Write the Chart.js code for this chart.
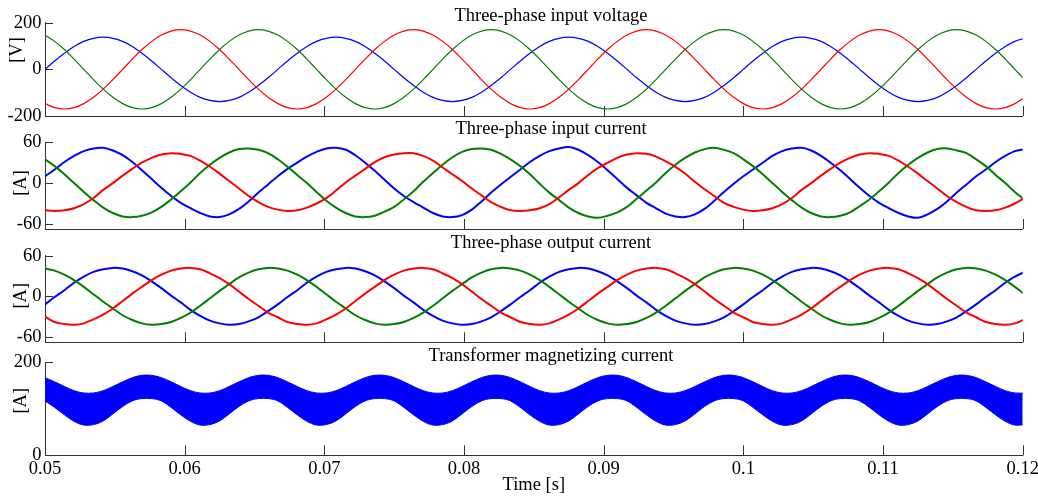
<!DOCTYPE html>
<html>
<head>
<meta charset="utf-8">
<script src="https://cdn.jsdelivr.net/npm/chart.js@4.4.0/dist/chart.umd.min.js"></script>
<style>
  body { margin: 0; background: #fff; }
  #wrap { position: relative; width: 1038px; height: 501px; }
  canvas { position: absolute; left: 0; top: 0; }
</style>
</head>
<body>
<div id="wrap">
  <canvas id="p1" width="1038" height="501"></canvas>
  <canvas id="p2" width="1038" height="501"></canvas>
  <canvas id="p3" width="1038" height="501"></canvas>
  <canvas id="p4" width="1038" height="501"></canvas>
</div>
<script>
// sample times [s]
const time = [
  0.05, 0.05069, 0.05139, 0.05208, 0.05278, 0.05347, 0.05417, 0.05486, 0.05556, 0.05625, 0.05694, 0.05764, 0.05833, 0.05903, 0.05972, 0.06042, 0.06111, 0.06181, 0.0625, 0.06319, 0.06389, 0.06458, 0.06528, 0.06597,
  0.06667, 0.06736, 0.06806, 0.06875, 0.06944, 0.07014, 0.07083, 0.07153, 0.07222, 0.07292, 0.07361, 0.07431, 0.075, 0.07569, 0.07639, 0.07708, 0.07778, 0.07847, 0.07917, 0.07986, 0.08056, 0.08125, 0.08194, 0.08264,
  0.08333, 0.08403, 0.08472, 0.08542, 0.08611, 0.08681, 0.0875, 0.08819, 0.08889, 0.08958, 0.09028, 0.09097, 0.09167, 0.09236, 0.09306, 0.09375, 0.09444, 0.09514, 0.09583, 0.09653, 0.09722, 0.09792, 0.09861, 0.09931,
  0.1, 0.10069, 0.10139, 0.10208, 0.10278, 0.10347, 0.10417, 0.10486, 0.10556, 0.10625, 0.10694, 0.10764, 0.10833, 0.10903, 0.10972, 0.11042, 0.11111, 0.11181, 0.1125, 0.11319, 0.11389, 0.11458, 0.11528, 0.11597,
  0.11667, 0.11736, 0.11806, 0.11875, 0.11944, 0.12014
];

// input voltage [V]
const voltRed = [
  -147, -164, -170, -164, -147, -120, -85, -44, 0, 44, 85, 120, 147, 164, 170, 164, 147, 120, 85, 44, 0, -44, -85, -120,
  -147, -164, -170, -164, -147, -120, -85, -44, 0, 44, 85, 120, 147, 164, 170, 164, 147, 120, 85, 44, 0, -44, -85, -120,
  -147, -164, -170, -164, -147, -120, -85, -44, 0, 44, 85, 120, 147, 164, 170, 164, 147, 120, 85, 44, 0, -44, -85, -120,
  -147, -164, -170, -164, -147, -120, -85, -44, 0, 44, 85, 120, 147, 164, 170, 164, 147, 120, 85, 44, 0, -44, -85, -120,
  -147, -164, -170, -164, -147, -120
];
const voltGreen = [
  147, 120, 85, 44, 0, -44, -85, -120, -147, -164, -170, -164, -147, -120, -85, -44, 0, 44, 85, 120, 147, 164, 170, 164,
  147, 120, 85, 44, 0, -44, -85, -120, -147, -164, -170, -164, -147, -120, -85, -44, 0, 44, 85, 120, 147, 164, 170, 164,
  147, 120, 85, 44, 0, -44, -85, -120, -147, -164, -170, -164, -147, -120, -85, -44, 0, 44, 85, 120, 147, 164, 170, 164,
  147, 120, 85, 44, 0, -44, -85, -120, -147, -164, -170, -164, -147, -120, -85, -44, 0, 44, 85, 120, 147, 164, 170, 164,
  147, 120, 85, 44, 0, -44
];
const voltBlue = [
  0, 36, 69, 98, 120, 133, 138, 133, 120, 98, 69, 36, 0, -36, -69, -98, -120, -133, -138, -133, -120, -98, -69, -36,
  0, 36, 69, 98, 120, 133, 138, 133, 120, 98, 69, 36, 0, -36, -69, -98, -120, -133, -138, -133, -120, -98, -69, -36,
  0, 36, 69, 98, 120, 133, 138, 133, 120, 98, 69, 36, 0, -36, -69, -98, -120, -133, -138, -133, -120, -98, -69, -36,
  0, 36, 69, 98, 120, 133, 138, 133, 120, 98, 69, 36, 0, -36, -69, -98, -120, -133, -138, -133, -120, -98, -69, -36,
  0, 36, 69, 98, 120, 133
];

// input current [A]
const inRed = [
  -40, -41, -40, -37, -31, -22, -10, 0, 11, 21, 30, 37, 42, 44, 43, 40, 33, 24, 14, 3, -8, -19, -28, -35,
  -39, -41, -40, -36, -30, -22, -11, 1, 11, 21, 31, 38, 42, 44, 44, 40, 33, 23, 13, 3, -8, -18, -28, -35,
  -40, -41, -40, -37, -31, -21, -10, 0, 12, 22, 30, 37, 42, 44, 43, 39, 32, 24, 14, 2, -9, -19, -29, -35,
  -39, -41, -40, -37, -31, -22, -10, 0, 11, 21, 30, 37, 42, 44, 43, 40, 33, 24, 14, 3, -8, -19, -28, -35,
  -40, -41, -40, -36, -30, -22
];
const inGreen = [
  35, 25, 13, 0, -13, -25, -36, -44, -49, -50, -48, -43, -35, -24, -12, 1, 15, 27, 37, 45, 50, 51, 49, 44,
  35, 24, 12, 0, -13, -26, -36, -44, -49, -50, -48, -42, -35, -24, -12, 2, 15, 27, 38, 46, 50, 51, 49, 43,
  35, 25, 13, -1, -14, -25, -36, -44, -49, -51, -48, -43, -35, -23, -11, 1, 15, 27, 37, 45, 50, 52, 49, 44,
  35, 25, 13, 0, -13, -25, -36, -44, -49, -50, -48, -43, -34, -24, -12, 1, 15, 27, 37, 45, 50, 51, 48, 44,
  35, 25, 12, 0, -13, -25
];
const inBlue = [
  10, 20, 31, 40, 47, 51, 52, 48, 41, 31, 19, 6, -7, -19, -29, -37, -44, -49, -50, -46, -38, -27, -14, -2,
  10, 21, 30, 39, 46, 51, 52, 49, 41, 30, 18, 5, -8, -19, -28, -36, -44, -49, -50, -47, -39, -27, -14, -2,
  9, 20, 31, 40, 47, 51, 53, 49, 41, 31, 19, 6, -7, -18, -29, -37, -45, -49, -50, -46, -38, -26, -13, -1,
  10, 20, 30, 40, 47, 51, 52, 48, 40, 30, 19, 6, -7, -19, -29, -37, -44, -49, -51, -46, -38, -27, -14, -2,
  10, 20, 31, 40, 47, 50
];

// output current [A]
const outRed = [
  -30, -38, -41, -42, -40, -34, -27, -18, -7, 4, 14, 24, 32, 38, 41, 42, 40, 34, 27, 18, 7, -4, -14, -24,
  -31, -38, -41, -42, -40, -34, -27, -18, -7, 4, 14, 24, 32, 38, 41, 42, 40, 34, 27, 18, 7, -4, -14, -24,
  -31, -38, -41, -42, -40, -34, -27, -18, -7, 4, 14, 24, 32, 38, 41, 42, 40, 34, 27, 18, 7, -4, -14, -24,
  -31, -38, -41, -42, -40, -34, -27, -18, -7, 4, 14, 24, 32, 38, 41, 42, 40, 34, 27, 18, 7, -4, -14, -24,
  -31, -38, -41, -42, -40, -34
];
const outGreen = [
  41, 38, 32, 24, 14, 3, -8, -18, -28, -35, -40, -42, -41, -38, -32, -24, -14, -3, 8, 18, 28, 35, 40, 42,
  41, 38, 32, 24, 14, 3, -8, -18, -28, -35, -40, -42, -41, -38, -32, -24, -14, -3, 8, 18, 28, 35, 40, 42,
  41, 38, 32, 24, 14, 3, -8, -18, -28, -35, -40, -42, -41, -38, -32, -24, -14, -3, 8, 18, 28, 35, 40, 42,
  41, 38, 32, 24, 14, 3, -8, -18, -28, -35, -40, -42, -41, -38, -32, -24, -14, -3, 8, 18, 28, 35, 40, 42,
  41, 38, 32, 24, 14, 3
];
const outBlue = [
  -12, -1, 9, 20, 29, 36, 40, 42, 41, 37, 31, 22, 12, 1, -9, -20, -29, -36, -40, -42, -41, -37, -31, -22,
  -12, -1, 9, 20, 29, 36, 40, 42, 41, 37, 31, 22, 12, 1, -9, -20, -29, -36, -40, -42, -41, -37, -31, -22,
  -12, -1, 9, 20, 29, 36, 40, 42, 41, 37, 31, 22, 12, 1, -9, -20, -29, -36, -40, -42, -41, -37, -31, -22,
  -12, -1, 9, 20, 29, 36, 40, 42, 41, 37, 31, 22, 12, 1, -9, -20, -29, -36, -40, -42, -41, -37, -31, -22,
  -12, -1, 9, 20, 29, 36
];

// magnetizing current envelope [A]
const magUpper = [
  167, 158, 148, 139, 134, 134, 139, 148, 158, 167, 172, 172, 167, 158, 148, 139, 134, 134, 139, 148, 158, 167, 172, 172,
  167, 158, 148, 139, 134, 134, 139, 148, 158, 167, 172, 172, 167, 158, 148, 139, 134, 134, 139, 148, 158, 167, 172, 172,
  167, 158, 148, 139, 134, 134, 139, 148, 158, 167, 172, 172, 167, 158, 148, 139, 134, 134, 139, 148, 158, 167, 172, 172,
  167, 158, 148, 139, 134, 134, 139, 148, 158, 167, 172, 172, 167, 158, 148, 139, 134, 134, 139, 148, 158, 167, 172, 172,
  167, 158, 148, 139, 134, 134
];
const magLower = [
  117, 103, 87, 73, 65, 66, 74, 89, 105, 117, 122, 122, 117, 103, 87, 73, 65, 66, 74, 89, 105, 117, 122, 122,
  117, 103, 87, 73, 65, 66, 74, 89, 105, 117, 122, 122, 117, 103, 87, 73, 65, 66, 74, 89, 105, 117, 122, 122,
  117, 103, 87, 73, 65, 66, 74, 89, 105, 117, 122, 122, 117, 103, 87, 73, 65, 66, 74, 89, 105, 117, 122, 122,
  117, 103, 87, 73, 65, 66, 74, 89, 105, 117, 122, 122, 117, 103, 87, 73, 65, 66, 74, 89, 105, 117, 122, 122,
  117, 103, 87, 73, 65, 66
];

const xTicks = [0.05, 0.06, 0.07, 0.08, 0.09, 0.1, 0.11, 0.12];
const yTicksV = [-200, 0, 200];
const yTicksA = [-60, 0, 60];
const yTicksM = [0, 200];

const RED = '#ff0000', GREEN = '#008000', BLUE = '#0000ff';
const AXIS = '#333333';
const SERIF = '"Liberation Serif", "Times New Roman", serif';

Chart.defaults.font.family = SERIF;
Chart.defaults.font.size = 18.5;
Chart.defaults.color = '#000';

function pts(arr) {
  return time.map((t, i) => ({ x: t, y: arr[i] }));
}

function line(arr, color, width) {
  return { data: pts(arr), borderColor: color, borderWidth: width, pointRadius: 0, fill: false };
}

// inward tick marks, panel title and y label
const panelText = {
  id: 'panelText',
  afterDraw(chart, args, opts) {
    const ctx = chart.ctx, a = chart.chartArea, x = chart.scales.x, y = chart.scales.y;
    ctx.save();
    ctx.strokeStyle = AXIS;
    ctx.lineWidth = 1;
    ctx.beginPath();
    x.ticks.forEach(t => {
      const px = Math.round(x.getPixelForValue(t.value)) + 0.5;
      ctx.moveTo(px, a.bottom);
      ctx.lineTo(px, a.bottom - 10);
    });
    y.ticks.forEach(t => {
      const py = Math.round(y.getPixelForValue(t.value)) + 0.5;
      ctx.moveTo(a.left, py);
      ctx.lineTo(a.left + 8, py);
    });
    ctx.stroke();
    ctx.fillStyle = '#000';
    ctx.font = '18.5px ' + SERIF;
    ctx.textAlign = 'center';
    ctx.textBaseline = 'alphabetic';
    ctx.fillText(opts.title, 551, opts.titleY);
    ctx.translate(opts.labelX, opts.labelY);
    ctx.rotate(-Math.PI / 2);
    ctx.textBaseline = 'middle';
    ctx.fillText(opts.ylabel, 0, 0);
    ctx.restore();
  }
};

function makePanel(id, datasets, yMin, yMax, yTicks, top, bottom, deco, last) {
  return new Chart(document.getElementById(id), {
    type: 'line',
    data: { datasets: datasets },
    options: {
      responsive: false,
      animation: false,
      events: [],
      layout: { padding: { left: 0, right: 1038 - 1022.7, top: top, bottom: last ? 0 : 501 - bottom } },
      elements: { line: { tension: 0.35 } },
      plugins: { legend: { display: false }, tooltip: { enabled: false }, panelText: deco },
      scales: {
        x: {
          type: 'linear',
          min: 0.05,
          max: 0.12,
          afterBuildTicks: s => { s.ticks = xTicks.map(v => ({ value: v })); },
          afterFit: s => { s.height = last ? 501 - bottom : 0; s.paddingLeft = 0; s.paddingRight = 0; },
          grid: { display: false, drawTicks: false },
          border: { display: true, color: AXIS, width: 1 },
          ticks: { display: last, padding: 3, maxRotation: 0, autoSkip: false, callback: v => String(+v.toFixed(2)) },
          title: { display: last, text: 'Time [s]', padding: { top: 0, bottom: 4.5 } }
        },
        y: {
          min: yMin,
          max: yMax,
          afterBuildTicks: s => { s.ticks = yTicks.map(v => ({ value: v })); },
          afterFit: s => { s.width = 45; s.paddingTop = 0; s.paddingBottom = 0; },
          grid: { display: false, drawTicks: false },
          border: { display: true, color: AXIS, width: 1 },
          ticks: { padding: 3.5, callback: v => String(v) }
        }
      }
    },
    plugins: [panelText]
  });
}

makePanel('p1', [line(voltRed, RED, 1.2), line(voltGreen, GREEN, 1.2), line(voltBlue, BLUE, 1.2)],
  -200, 200, yTicksV, 22.7, 116,
  { title: 'Three-phase input voltage', titleY: 20.7, ylabel: '[V]', labelX: 17.5, labelY: 50 }, false);

makePanel('p2', [line(inRed, RED, 2), line(inGreen, GREEN, 2), line(inBlue, BLUE, 2)],
  -67.5, 60, yTicksA, 142.3, 229,
  { title: 'Three-phase input current', titleY: 134, ylabel: '[A]', labelX: 21, labelY: 183 }, false);

makePanel('p3', [line(outRed, RED, 2), line(outGreen, GREEN, 2), line(outBlue, BLUE, 2)],
  -68, 60, yTicksA, 255.7, 342.3,
  { title: 'Three-phase output current', titleY: 247.6, ylabel: '[A]', labelX: 21, labelY: 295.7 }, false);

makePanel('p4', [
    { data: pts(magUpper), borderColor: BLUE, borderWidth: 1, pointRadius: 0, fill: '+1', backgroundColor: BLUE },
    { data: pts(magLower), borderColor: BLUE, borderWidth: 1, pointRadius: 0, fill: false }
  ],
  0, 200, yTicksM, 362.3, 455.3,
  { title: 'Transformer magnetizing current', titleY: 360.7, ylabel: '[A]', labelX: 21.3, labelY: 400.7 }, true);
</script>
</body>
</html>
